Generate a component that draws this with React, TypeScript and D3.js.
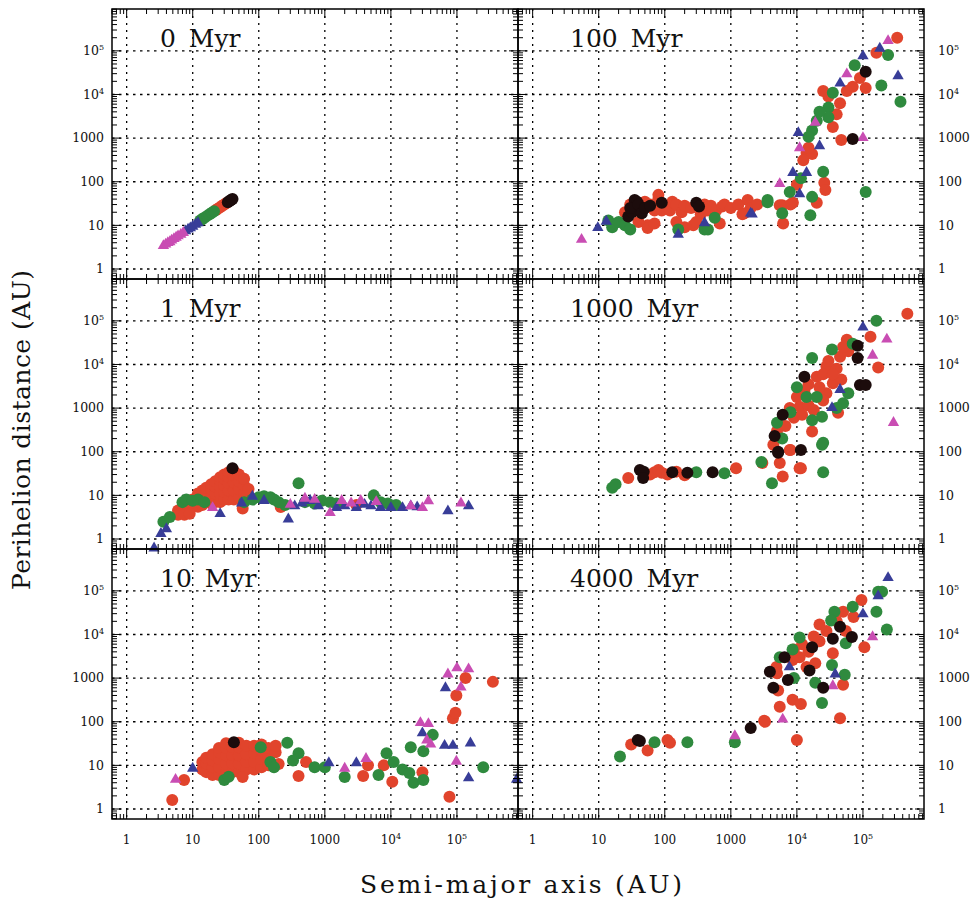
import React from "react";
import * as d3 from "d3";

type Pt = [number, number];

// panel titles, reading order (left column, right column per row)
const panelTitles = ["0 Myr", "100 Myr", "1 Myr", "1000 Myr", "10 Myr", "4000 Myr"];

// tick decades shown on both axes
const decades = [1, 10, 100, 1000, 1e4, 1e5];

// ---- 0 Myr : [semi-major axis, perihelion] in AU
const red0: Pt[] = [[22.5, 22.5], [24, 24], [26, 26], [28, 28], [30, 30], [32, 32]];
const green0: Pt[] = [[13, 13], [14, 14], [15, 15], [16.5, 16.5], [18, 18], [19.5, 19.5], [21, 21]];
const black0: Pt[] = [[34, 34], [36, 36], [38, 38], [40, 40]];
const blue0: Pt[] = [[7.8, 7.8], [8.5, 8.6], [9.2, 9.2], [10, 10], [11, 11], [12, 12]];
const mag0: Pt[] = [[3.6, 3.6], [3.9, 3.9], [4.2, 4.2], [4.5, 4.4], [4.8, 4.8], [5.2, 5.2], [5.6, 5.6], [6, 6], [6.6, 6.5], [7.2, 7.2]];

// ---- 100 Myr
const red100: Pt[] = [
  [25, 20], [30, 30], [35, 25], [40, 22], [45, 30], [50, 35], [60, 30], [70, 22], [80, 40], [80, 50],
  [90, 22], [100, 28], [120, 22], [130, 35], [150, 30], [180, 20], [200, 28], [250, 25], [350, 18],
  [400, 30], [450, 22], [500, 28], [600, 22], [740, 27], [800, 30], [1000, 25], [1300, 30], [1800, 38],
  [2000, 25], [2500, 30], [1600, 19], [1500, 18], [680, 11], [40, 12], [55, 10], [55, 8.7], [70, 11],
  [150, 12], [200, 9], [270, 10], [300, 12],
  [330000, 200000], [160000, 90000], [90000, 24000], [70000, 15000], [110000, 14000], [57000, 12000],
  [45000, 6300], [35000, 1800], [14000, 460], [17000, 430], [12500, 310], [47000, 900], [26000, 95],
  [27000, 65], [20000, 33], [10000, 85], [8700, 33], [6000, 29], [6200, 11], [8000, 30], [5500, 29],
  [30000, 9000], [25000, 12000], [40000, 3500], [15000, 600],
];
const green100: Pt[] = [
  [14, 13], [16, 9], [20, 12], [25, 10], [30, 8], [160, 8], [400, 8], [450, 8], [570, 15], [3600, 38],
  [240000, 80000], [190000, 16000], [370000, 6800], [75000, 47000], [35000, 11000], [30000, 5000],
  [30000, 3000], [17000, 1500], [15000, 1070], [25000, 170], [17000, 45], [16000, 17], [110000, 58],
  [7800, 58], [11500, 120], [6000, 19], [3600, 34], [20000, 2500], [22000, 4000],
];
const black100: Pt[] = [
  [35, 38], [28, 16], [32, 20], [38, 35], [30, 25], [40, 30], [45, 19], [50, 25], [60, 28], [90, 33],
  [300, 33], [330, 27], [110000, 33000], [70000, 950],
];
const blue100: Pt[] = [
  [9.7, 9.3], [13, 13], [160, 6.5], [400, 12], [2000, 20], [2100, 19], [180000, 120000],
  [100000, 80000], [340000, 28000], [45000, 19000], [10500, 1400], [22000, 700], [8700, 170],
  [14000, 170], [11000, 55],
];
const mag100: Pt[] = [
  [5.5, 5], [240000, 180000], [57000, 31000], [19000, 2400], [11000, 630], [100000, 1070], [5500, 95],
];

// ---- 1 Myr
const red1: Pt[] = [
  [6, 4.5], [7, 4.2], [8, 5], [9, 4.8], [10, 6], [10, 8], [12, 5.5], [12, 9], [12, 11], [14, 6],
  [14, 10], [14, 13], [16, 7], [16, 11], [16, 15], [19, 6.5], [19, 10], [19, 14], [19, 18], [22, 7],
  [22, 11], [22, 16], [22, 21], [26, 7], [26, 11], [26, 16], [26, 22], [26, 26], [30, 8], [30, 12],
  [30, 17], [30, 24], [30, 30], [35, 8], [35, 13], [35, 19], [35, 26], [35, 34], [42, 8], [42, 13],
  [42, 20], [42, 28], [42, 36], [50, 9], [50, 14], [50, 21], [50, 30], [60, 11], [60, 17], [60, 24],
  [70, 14], [6, 3.6], [7.5, 3.6], [9, 3.8], [215, 5.4], [3000, 6], [57, 5],
];
const green1: Pt[] = [
  [3.6, 2.5], [4.5, 3.2], [7, 7], [8, 8], [10, 7.5], [12, 8], [15, 7], [60, 7], [80, 8], [100, 9],
  [120, 9.5], [150, 9], [170, 8], [200, 7], [250, 6], [400, 19], [500, 7], [700, 6.5], [900, 7.5],
  [1200, 7], [1500, 6.5], [5500, 10], [7000, 7], [9000, 6.5], [12000, 6],
];
const black1: Pt[] = [[40, 42]];
const blue1: Pt[] = [
  [2.6, 0.65], [3.3, 1.4], [4, 1.8], [26, 4], [55, 7], [80, 10], [120, 8], [280, 3], [350, 6],
  [450, 7], [600, 8], [800, 6], [1500, 5.5], [2000, 6], [3000, 5.5], [4000, 6.5], [5000, 6],
  [7000, 5.5], [10000, 5.5], [15000, 5.5], [20000, 6], [25000, 5.7], [73000, 4.6], [150000, 6],
];
const mag1: Pt[] = [
  [20, 5.5], [300, 6.5], [500, 9], [700, 8.5], [1200, 4.2], [1800, 8], [2500, 7], [3500, 8],
  [6000, 7.5], [20000, 6], [30000, 5.5], [37000, 7.8], [115000, 7],
];

// ---- 1000 Myr
const red1000: Pt[] = [
  [28, 25], [60, 30], [70, 34], [80, 38], [90, 33], [110, 30], [150, 35], [200, 29], [1200, 42],
  [470000, 145000], [130000, 43000], [57000, 37000], [170000, 8500], [45000, 15000], [28000, 9000],
  [20000, 5200], [35000, 3700], [47000, 4500], [28000, 2200], [10000, 1800], [11000, 1070],
  [42000, 780], [15000, 1150], [18000, 900], [7800, 1000], [6700, 390], [17000, 290], [4400, 145],
  [7800, 110], [3000, 55], [5500, 55], [11500, 42], [6100, 27], [8000, 110], [11000, 42],
  [60000, 20000], [40000, 8000], [25000, 6000], [22000, 3000], [13000, 2500], [9000, 600],
  [5000, 300], [30000, 12000], [50000, 25000], [35000, 6000], [15000, 3500], [25000, 1500],
  [12000, 700],
];
const green1000: Pt[] = [
  [16, 15], [18, 18], [300, 34], [800, 32], [160000, 100000], [34000, 22000], [17000, 14000],
  [10000, 3000], [60000, 2200], [14000, 1800], [50000, 1300], [24000, 630], [5000, 460],
  [17000, 530], [6000, 200], [24000, 145], [25000, 34], [4200, 19], [2900, 58], [25000, 160],
  [20000, 1800], [40000, 1000], [8000, 800], [70000, 30000],
];
const black1000: Pt[] = [
  [42, 38], [48, 35], [47, 25], [130, 34], [220, 33], [530, 34], [83000, 27000], [83000, 14000],
  [13000, 5200], [90000, 3400], [110000, 3400], [6100, 700], [4600, 230], [5200, 95], [11500, 110],
  [5200, 100],
];
const blue1000: Pt[] = [[100000, 75000], [45000, 2800], [34000, 1070]];
const mag1000: Pt[] = [[230000, 40000], [140000, 17000], [290000, 490]];

// ---- 10 Myr
const red10: Pt[] = [
  [14, 8], [14, 12], [16, 7], [16, 11], [16, 15], [20, 6], [20, 9], [20, 13], [20, 18], [25, 6],
  [25, 9], [25, 14], [25, 20], [25, 25], [32, 7], [32, 11], [32, 17], [32, 25], [32, 32], [40, 7],
  [40, 11], [40, 17], [40, 26], [50, 7], [50, 11], [50, 17], [50, 26], [50, 33], [65, 8], [65, 12],
  [65, 18], [65, 28], [85, 8], [85, 12], [85, 19], [85, 28], [110, 9], [110, 14], [110, 22],
  [110, 30], [140, 10], [140, 16], [140, 25], [180, 20], [180, 28],
  [4.9, 1.6], [7.4, 4.6], [57, 5.4], [200, 10.8], [400, 5.7], [520, 12], [3800, 5.7], [4500, 10],
  [7800, 10], [10500, 4.2], [30000, 7], [77000, 1.9], [87000, 120], [95000, 160], [98000, 400],
  [135000, 1000], [350000, 820],
];
const green10: Pt[] = [
  [30, 4.6], [35, 5.5], [107, 26], [150, 12], [170, 9], [270, 33], [400, 19], [330, 13], [700, 9],
  [1000, 9], [2000, 5.4], [6500, 6], [8600, 19], [11000, 12], [15000, 8], [19000, 6.7], [20000, 26],
  [22000, 4], [31000, 4.6], [31000, 21], [43000, 50], [250000, 9],
];
const black10: Pt[] = [[42, 34]];
const blue10: Pt[] = [
  [10, 9], [1150, 12], [3000, 12], [30000, 58], [67000, 630], [65000, 30], [87000, 30],
  [160000, 34], [150000, 5.4], [800000, 5],
];
const mag10: Pt[] = [
  [5.5, 5], [2000, 9], [4200, 15], [28000, 100], [37000, 95], [35000, 40], [40000, 32],
  [73000, 1300], [100000, 1800], [150000, 1700], [115000, 650], [98000, 13],
];

// ---- 4000 Myr
const red4000: Pt[] = [
  [31, 30], [55, 22], [110, 38], [120, 33], [95000, 62000], [72000, 25000], [50000, 33000],
  [55000, 12000], [105000, 5100], [22000, 17000], [35000, 3700], [22000, 7000], [11000, 3000],
  [8600, 2600], [14000, 1800], [19000, 2200], [4900, 1800], [5000, 1300], [50000, 700], [5200, 520],
  [8600, 320], [11500, 255], [5500, 220], [45000, 120], [3200, 105], [10000, 38], [3300, 100],
  [15000, 4000], [12000, 6000], [18000, 9000], [9000, 4500], [28000, 12000], [40000, 20000],
];
const green4000: Pt[] = [
  [21, 16], [70, 34], [220, 34], [1150, 34], [170000, 95000], [195000, 95000], [160000, 33000],
  [230000, 13000], [70000, 43000], [37000, 33000], [55000, 6300], [33000, 21000], [11000, 8500],
  [8600, 4500], [34000, 2000], [5500, 3000], [9000, 1000], [19000, 780], [53000, 1200], [24000, 270],
];
const black4000: Pt[] = [
  [39, 38], [42, 36], [45000, 15000], [68000, 8700], [35000, 8000], [17000, 5100], [15500, 1500],
  [6500, 3000], [3900, 1400], [7300, 900], [25000, 600], [4400, 600], [2000, 72],
];
const blue4000: Pt[] = [[240000, 210000], [170000, 80000], [100000, 31000], [7700, 1900], [38000, 1300]];
const mag4000: Pt[] = [[1150, 50], [140000, 9300], [35000, 700], [6100, 120]];

const panels = [
  { red: red0, green: green0, black: black0, blue: blue0, mag: mag0 },
  { red: red100, green: green100, black: black100, blue: blue100, mag: mag100 },
  { red: red1, green: green1, black: black1, blue: blue1, mag: mag1 },
  { red: red1000, green: green1000, black: black1000, blue: blue1000, mag: mag1000 },
  { red: red10, green: green10, black: black10, blue: blue10, mag: mag10 },
  { red: red4000, green: green4000, black: black4000, blue: blue4000, mag: mag4000 },
];

const COLORS = { red: "#e1442c", green: "#2f8a3e", black: "#1c0c0c", blue: "#383d98", mag: "#c94db3" };

const PW = 406;
const PH = 270;
const colX = [112, 518];
const rowY = [9, 279, 549];

const x = d3.scaleLog().domain([0.6, 8.4e5]).range([0, PW]);
const y = d3.scaleLog().domain([0.59, 9.1e5]).range([PH, 0]);

const tri = d3.symbol(d3.symbolTriangle, 56)() as string;

// all log ticks (1..9 per decade) inside the domain
function logTicks(domain: number[]) {
  const out: { v: number; major: boolean }[] = [];
  for (let k = -1; k <= 6; k++) {
    for (let m = 1; m <= 9; m++) {
      const v = m * Math.pow(10, k);
      if (v > domain[0] && v < domain[1]) out.push({ v, major: m === 1 });
    }
  }
  return out;
}
const xTicks = logTicks(x.domain());
const yTicks = logTicks(y.domain());

function Label({ v }: { v: number }) {
  if (v >= 1e4) {
    const e = Math.round(Math.log10(v));
    return (
      <>
        10<tspan dy={-5} fontSize={8}>{e}</tspan>
      </>
    );
  }
  return <>{String(v)}</>;
}

function Panel({ idx }: { idx: number }) {
  const col = idx % 2;
  const row = Math.floor(idx / 2);
  const p = panels[idx];
  const circles = (pts: Pt[], fill: string) =>
    pts.map((d, i) => <circle key={fill + i} cx={x(d[0])} cy={y(d[1])} r={6} fill={fill} />);
  const tris = (pts: Pt[], fill: string) =>
    pts.map((d, i) => (
      <path key={fill + i} d={tri} transform={`translate(${x(d[0])},${y(d[1]) + 1})`} fill={fill} />
    ));
  return (
    <g transform={`translate(${colX[col]},${rowY[row]})`}>
      {/* grid */}
      {decades.map((v) => (
        <line key={"gx" + v} x1={x(v)} x2={x(v)} y1={0} y2={PH} stroke="#000" strokeWidth={1.3} strokeDasharray="2 5" />
      ))}
      {decades.map((v) => (
        <line key={"gy" + v} x1={0} x2={PW} y1={y(v)} y2={y(v)} stroke="#000" strokeWidth={1.3} strokeDasharray="2.5 4.5" />
      ))}
      {/* data */}
      {circles(p.red, COLORS.red)}
      {circles(p.green, COLORS.green)}
      {tris(p.blue, COLORS.blue)}
      {tris(p.mag, COLORS.mag)}
      {circles(p.black, COLORS.black)}
      {/* ticks on all four sides */}
      {xTicks.map((t, i) => {
        const L = t.major ? 9 : 5;
        return (
          <g key={"tx" + i} stroke="#000" strokeWidth={1}>
            <line x1={x(t.v)} x2={x(t.v)} y1={PH} y2={PH - L} />
            <line x1={x(t.v)} x2={x(t.v)} y1={0} y2={L} />
          </g>
        );
      })}
      {yTicks.map((t, i) => {
        const L = t.major ? 9 : 5;
        return (
          <g key={"ty" + i} stroke="#000" strokeWidth={1}>
            <line x1={0} x2={L} y1={y(t.v)} y2={y(t.v)} />
            <line x1={PW} x2={PW - L} y1={y(t.v)} y2={y(t.v)} />
          </g>
        );
      })}
      <rect x={0} y={0} width={PW} height={PH} fill="none" stroke="#000" strokeWidth={1.5} />
      <text x={col === 0 ? 48 : 52} y={38} fontFamily="DejaVu Serif" fontSize={25} wordSpacing={5} fill="#111">
        {panelTitles[idx]}
      </text>
      {/* y tick labels, outside */}
      {decades.map((v) => (
        <text
          key={"ly" + v}
          x={col === 0 ? -8 : PW + 14}
          y={y(v)}
          dy="0.35em"
          textAnchor={col === 0 ? "end" : "start"}
          fontFamily="DejaVu Serif"
          fontSize={12.5}
          fill="#111"
        >
          <Label v={v} />
        </text>
      ))}
      {row === 2 &&
        decades.map((v) => (
          <text
            key={"lx" + v}
            x={x(v)}
            y={PH + 25}
            textAnchor="middle"
            fontFamily="DejaVu Serif"
            fontSize={12}
            fill="#111"
          >
            <Label v={v} />
          </text>
        ))}
    </g>
  );
}

export default function App() {
  return (
    <svg
      width={977}
      height={905}
      style={{ position: "absolute", left: 0, top: 0, display: "block", background: "#fff" }}
    >
      {panelTitles.map((_, i) => (
        <Panel key={i} idx={i} />
      ))}
      <text
        transform="translate(30,430) rotate(-90)"
        textAnchor="middle"
        fontFamily="DejaVu Serif"
        fontSize={25}
        textLength={320}
        lengthAdjust="spacing"
        fill="#111"
      >
        Perihelion distance (AU)
      </text>
      <text
        x={521}
        y={893}
        textAnchor="middle"
        fontFamily="DejaVu Serif"
        fontSize={25}
        textLength={322}
        lengthAdjust="spacing"
        fill="#111"
      >
        Semi-major axis (AU)
      </text>
    </svg>
  );
}
